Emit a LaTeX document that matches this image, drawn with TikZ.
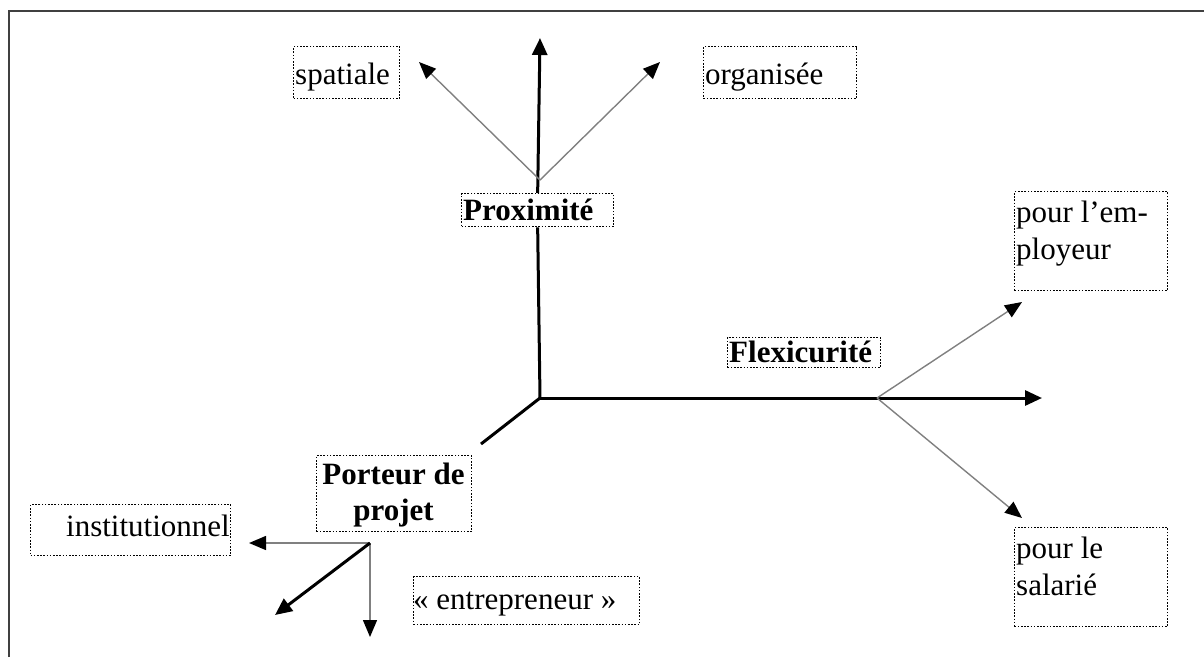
\documentclass[tikz,border=0pt]{standalone}
\usepackage{fontspec}
\setmainfont{Liberation Serif}
\usetikzlibrary{arrows.meta}
\begin{document}
\begin{tikzpicture}[x=1pt,y=-1pt,
  every node/.style={font=\fontsize{31}{36.5}\selectfont},
  axis/.style={line width=3pt, line cap=butt},
  axisarrow/.style={axis, -{Triangle[length=17pt,width=15pt]}},
  branch/.style={line width=1.4pt, draw=black!50, -{Triangle[length=17pt,width=14pt,color=black]}},
  dotbox/.style={draw, rectangle, line width=1.3pt, dash pattern=on 1.6pt off 1.6pt,
    fill=white, inner sep=0pt, anchor=north west},
  lbl/.style={inner sep=0pt, anchor=base west},
  boldlbl/.style={lbl, font=\fontsize{31}{36}\selectfont\bfseries}]
\useasboundingbox (0,0) rectangle (1204,657);

% frame
\coordinate (ftl) at (9,11);
\coordinate (ftr) at (1204,11);
\coordinate (fbl) at (9,657);
\draw[line width=2.5pt, black!75] (fbl) -- (ftl) -- (ftr);

% key points
\coordinate (O) at (540,398);
\coordinate (ytip) at (540,38);
\coordinate (xtip) at (1042,398);
\coordinate (zend) at (481,444);
\coordinate (pfork) at (540,180);
\coordinate (ffork) at (877,398);
\coordinate (S) at (370,543);

% boxes
\node[dotbox, minimum width=106pt, minimum height=52pt] (spbox) at (293,46) {};
\node[dotbox, minimum width=153pt, minimum height=52pt] (orbox) at (703,46) {};
\node[dotbox, minimum width=152pt, minimum height=33pt] (prox) at (461,193) {};
\node[dotbox, minimum width=153pt, minimum height=30pt] (flex) at (727,337) {};
\node[dotbox, minimum width=153pt, minimum height=99pt] (embox) at (1014,191) {};
\node[dotbox, minimum width=153pt, minimum height=99pt] (sabox) at (1014,527) {};
\node[dotbox, minimum width=155pt, minimum height=76pt] (porbox) at (316,455) {};
\node[dotbox, minimum width=200pt, minimum height=51pt] (inbox) at (30,504) {};
\node[dotbox, minimum width=226pt, minimum height=48pt] (enbox) at (413,576) {};

% texts
\node[lbl] (sp) at (295,84) {spatiale};
\node[lbl] (or) at (705,84) {organisée};
\node[boldlbl] (proxt) at (463,220) {Proximité};
\node[boldlbl] (flext) at (729,362) {Flexicurité};
\node[lbl, align=left, anchor=north west] (emt) at (1016,201) {pour l’em-\\ployeur};
\node[lbl, align=left, anchor=north west] (sat) at (1016,537) {pour le\\salarié};
\node[boldlbl, align=center, anchor=north] (port) at (393.5,463) {Porteur de\\projet};
\node[lbl, anchor=base east] (int) at (230,536) {institutionnel};
\node[lbl] (ent) at (413,609) {« entrepreneur »};

% main axes
\draw[axis] (O) -- (prox.south);
\draw[axisarrow] (prox.north) -- (ytip);
\draw[axisarrow] (O) -- (xtip);
\draw[axis] (O) -- (zend);

% branches of the proximity axis
\coordinate (sptip) at (419,62);
\coordinate (ortip) at (660,62);
\draw[branch] (pfork) -- (sptip);
\draw[branch] (pfork) -- (ortip);

% branches of the flexicurity axis
\coordinate (emtip) at (1022,302);
\coordinate (satip) at (1022,518);
\draw[branch] (ffork) -- (emtip);
\draw[branch] (ffork) -- (satip);

% branches under the project holder
\coordinate (intip) at (249,543);
\coordinate (dntip) at (370,637);
\coordinate (dgtip) at (275,615);
\draw[branch] (S) -- (intip);
\draw[branch] (S) -- (dntip);
\draw[axisarrow] (S) -- (dgtip);
\end{tikzpicture}
\end{document}
